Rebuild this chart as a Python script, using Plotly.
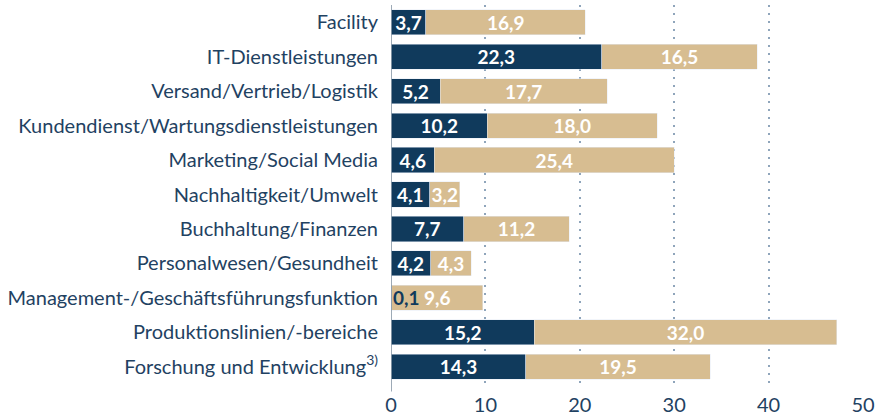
import plotly.graph_objects as go

categories = [
    "Facility",
    "IT-Dienstleistungen",
    "Versand/Vertrieb/Logistik",
    "Kundendienst/Wartungsdienstleistungen",
    "Marketing/Social Media",
    "Nachhaltigkeit/Umwelt",
    "Buchhaltung/Finanzen",
    "Personalwesen/Gesundheit",
    "Management-/Geschäftsführungsfunktion",
    "Produktionslinien/-bereiche",
    "Forschung und Entwicklung<sup>3)</sup>",
]
series_a = [3.7, 22.3, 5.2, 10.2, 4.6, 4.1, 7.7, 4.2, 0.1, 15.2, 14.3]
series_b = [16.9, 16.5, 17.7, 18.0, 25.4, 3.2, 11.2, 4.3, 9.6, 32.0, 19.5]
x_ticks = [0, 10, 20, 30, 40, 50]

NAVY = "#103a5c"
BEIGE = "#d7bd91"
TEXT = "#1f4262"
FONT = "Lato"
LABEL_SIZE = 20
BAR_TEXT_SIZE = 19


def fmt(v):
    return f"{v:.1f}".replace(".", ",")


small = 1.0
text_a = [fmt(v) if v >= small else "" for v in series_a]
text_b = [fmt(v) for v in series_b]

fig = go.Figure()
fig.add_trace(go.Bar(
    y=categories, x=series_a, orientation="h", marker_color=NAVY,
    text=text_a, textposition="inside", insidetextanchor="middle",
    constraintext="none", cliponaxis=False,
    textfont=dict(color="white", size=BAR_TEXT_SIZE, family=FONT, weight="bold"),
    hoverinfo="skip",
))
fig.add_trace(go.Bar(
    y=categories, x=series_b, orientation="h", marker_color=BEIGE,
    text=text_b, textposition="inside", insidetextanchor="middle",
    constraintext="none", cliponaxis=False,
    textfont=dict(color="white", size=BAR_TEXT_SIZE, family=FONT, weight="bold"),
    hoverinfo="skip",
))

for cat, v in zip(categories, series_a):
    if v < small:
        fig.add_annotation(
            x=0, y=cat, xref="x", yref="y", text=fmt(v), showarrow=False,
            xanchor="left", xshift=0,
            font=dict(color=NAVY, size=BAR_TEXT_SIZE, family=FONT, weight="bold"),
        )

fig.update_layout(
    barmode="stack",
    bargap=0.27,
    width=881, height=418,
    margin=dict(l=391, r=18, t=5, b=34, autoexpand=False),
    paper_bgcolor="white", plot_bgcolor="white",
    showlegend=False,
    font=dict(family=FONT, size=LABEL_SIZE, color=TEXT),
)
fig.update_yaxes(
    autorange="reversed", showgrid=False, ticks="", ticklabelstandoff=12,
    automargin=False,
    tickfont=dict(size=LABEL_SIZE, color=TEXT, family=FONT),
)
fig.update_xaxes(
    range=[0, 50], tickvals=x_ticks, showgrid=True,
    gridcolor="#8fa5bb", griddash="2px,6px", gridwidth=1.5,
    zeroline=False, showline=False, ticks="", ticklabelstandoff=7,
    automargin=False,
    tickfont=dict(size=LABEL_SIZE, color=TEXT, family=FONT),
)
fig.add_shape(type="line", xref="x", yref="paper", x0=0, x1=0, y0=-0.02, y1=1,
              line=dict(color="#7d8e9e", width=1.5), layer="above")

fig.write_html(
    "out.html",
    config={"displayModeBar": False},
    post_script="document.body.style.margin='0';document.body.style.padding='0';",
)
